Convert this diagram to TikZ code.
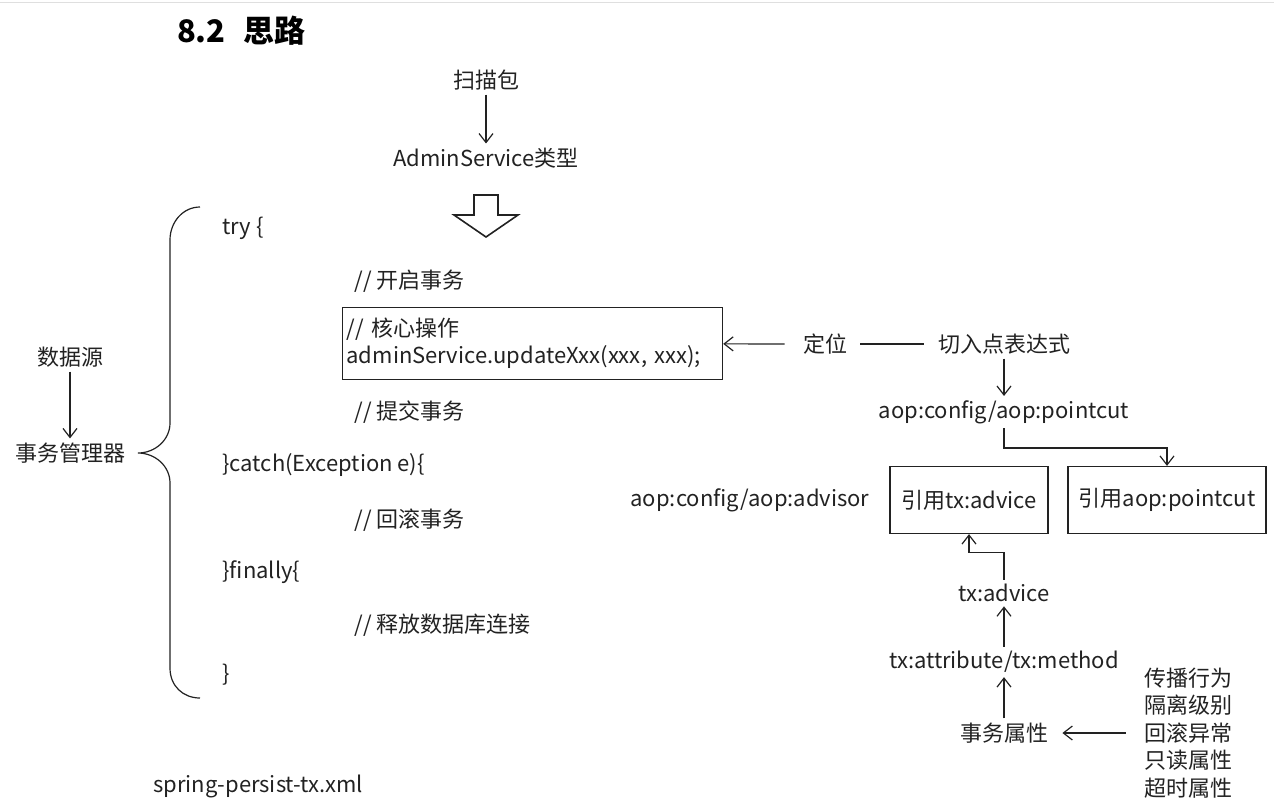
\documentclass[tikz,border=0pt]{standalone}
\usepackage{fontspec}
\setmainfont{Noto Sans CJK SC}
\usetikzlibrary{arrows.meta,calc,positioning}
\definecolor{ink}{HTML}{222222}
\tikzset{
  txt/.style={font=\fontsize{11}{13.5}\selectfont, text=ink, inner sep=2pt},
  code/.style={txt, anchor=west},
  arr/.style={draw=ink, line width=0.6pt, -{Straight Barb[length=4.5pt,width=7pt]}},
  ln/.style={draw=ink, line width=0.6pt},
  codebox/.style={txt, draw=ink, line width=0.6pt, align=left, text width=186pt, minimum height=36pt},
  refbox/.style={txt, draw=ink, line width=0.6pt, minimum height=33.5pt},
}

\begin{document}
\begin{tikzpicture}[x=0.5pt,y=-0.5pt]
\useasboundingbox (0,0) rectangle (1274,809);
\draw[gray!25] (0,2) -- (1274,2);
% title
\node[anchor=west, text=black, font=\fontsize{15.5}{18}\selectfont\bfseries] (ttl) at (170,31) {8.2\hspace{9pt}思路};

% scanning -> type
\node[txt] (scan) at (486,80) {扫描包};
\node[txt] (atype) at (486,158) {AdminService类型};
\draw[arr] (scan) -- (atype);
\draw[ln, line width=0.8pt] (474,195) -- (498,195) -- (498,215) -- (518,215) -- (486,237)
  -- (454,215) -- (474,215) -- cycle;

% data source / manager
\node[txt] (src) at (70,357) {数据源};
\node[txt] (mgr) at (70,453) {事务管理器};
\draw[arr] (src) -- (mgr);
\draw[ln] (200,207) .. controls (183,207) and (170,222) .. (170,240) -- (170,423)
  .. controls (170,440) and (155,453) .. (138,453)
  .. controls (155,453) and (170,466) .. (170,483) -- (170,668)
  .. controls (170,686) and (183,698) .. (200,698);

% code block
\node[code] (try) at (218,228) {try \{};
\node[code] (open) at (350,281) {// 开启事务};
\node[codebox, anchor=north west] (core) at (342,307) {// 核心操作\\adminService.updateXxx(xxx, xxx);};
\node[code] (commit) at (350,412) {// 提交事务};
\node[code] (catch) at (218,465) {\}catch(Exception e)\{};
\node[code] (rollback) at (350,520) {// 回滚事务};
\node[code] (fin) at (218,572) {\}finally\{};
\node[code] (release) at (350,625) {// 释放数据库连接};
\node[code] (close) at (218,675) {\}};

% pointcut
\node[txt] (locate) at (825,344) {定位};
\node[txt] (expr) at (1004,344) {切入点表达式};
\draw[arr, shorten <=7pt] (locate) -- (core);
\draw[ln, shorten <=4.5pt, shorten >=5pt] (locate) -- (expr);
\node[txt] (pcut) at (1004,412) {aop:config/aop:pointcut};
\draw[arr] (expr) -- (pcut);

% advisor
\node[txt] (advisor) at (750,500) {aop:config/aop:advisor};
\node[refbox, minimum width=79pt] (reftx) at (969,500) {引用tx:advice};
\node[refbox, minimum width=99pt] (refpc) at (1167,500) {引用aop:pointcut};
\draw[arr] (pcut.south) -- ++(0,20) -| (refpc.north);

% tx advice
\node[txt] (txadv) at (1004,593) {tx:advice};
\draw[arr] (txadv.north) -- ++(0,-27) -| (reftx.south);
\node[txt] (txattr) at (1004,662) {tx:attribute/tx:method};
\draw[arr] (txattr) -- (txadv);
\node[txt] (txprop) at (1004,733) {事务属性};
\draw[arr] (txprop) -- (txattr);
\node[txt, align=left, font=\fontsize{11}{13.75}\selectfont] (props) at (1188,733) {传播行为\\隔离级别\\回滚异常\\只读属性\\超时属性};
\draw[arr, shorten <=7pt, shorten >=5pt] (props) -- (txprop);

\node[txt, anchor=west] (xml) at (149,786) {spring-persist-tx.xml};
\end{tikzpicture}
\end{document}
